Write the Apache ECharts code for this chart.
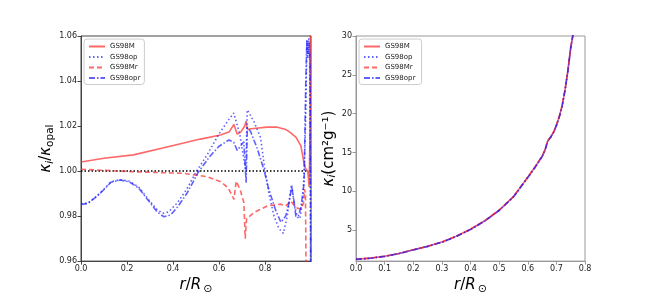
<!DOCTYPE html>
<html><head><meta charset="utf-8">
<script src="https://cdn.jsdelivr.net/npm/echarts@6/dist/echarts.min.js"></script>
<style>html,body{margin:0;padding:0;background:#fff}#c{width:650px;height:300px}</style>
</head><body><div id="c"></div>
<script>
// ---- Left panel: kappa_i / kappa_opal vs r/R_sun ----
const seriesNames = ['GS98M', 'GS98op', 'GS98Mr', 'GS98opr'];

const rM = [0, 0.1, 0.228, 0.374, 0.519, 0.607, 0.645, 0.665, 0.679, 0.694, 0.712, 0.718, 0.723, 0.76, 0.81, 0.854, 0.89, 0.912, 0.935, 0.956, 0.97, 0.977, 0.986, 0.992, 0.996, 0.998];
const yM = [1.004, 1.0057, 1.0072, 1.0107, 1.0142, 1.016, 1.0175, 1.0207, 1.0164, 1.0173, 1.020, 1.0222, 1.0186, 1.019, 1.0195, 1.0195, 1.0185, 1.017, 1.015, 1.0112, 1.0033, 1.001, 1.000, 0.993, 1.02, 1.08];

const rOp = [0, 0.03, 0.07, 0.1, 0.13, 0.17, 0.21, 0.25, 0.3, 0.33, 0.355, 0.38, 0.42, 0.46, 0.5, 0.55, 0.6, 0.64, 0.664, 0.69, 0.716, 0.723, 0.752, 0.781, 0.8, 0.817, 0.839, 0.861, 0.88, 0.897, 0.909, 0.916, 0.927, 0.941, 0.951, 0.963, 0.97, 0.977, 0.982, 0.986, 0.99, 0.994, 0.997, 0.999];
const yOp = [0.9855, 0.9858, 0.989, 0.992, 0.9952, 0.9962, 0.9955, 0.993, 0.9865, 0.983, 0.9812, 0.9818, 0.986, 0.992, 0.9995, 1.0075, 1.0165, 1.0225, 1.0258, 1.0165, 1.0006, 1.0272, 1.022, 1.0148, 1.0, 0.990, 0.980, 0.9744, 0.9723, 0.980, 0.990, 0.994, 0.9852, 0.9795, 0.9788, 0.986, 0.999, 1.0235, 1.058, 1.050, 1.059, 1.052, 1.0, 0.92];

const rMr = [0, 0.228, 0.447, 0.548, 0.607, 0.64, 0.655, 0.665, 0.675, 0.684, 0.694, 0.708, 0.714, 0.72, 0.752, 0.81, 0.868, 0.89, 0.912, 0.934, 0.956, 0.968, 0.972, 0.976, 0.978, 0.98];
const yMr = [1.0008, 0.9997, 0.999, 0.9975, 0.9953, 0.9925, 0.9895, 0.9874, 0.9955, 0.9935, 0.991, 0.986, 0.970, 0.9788, 0.9816, 0.9845, 0.9853, 0.9845, 0.9867, 0.9838, 0.983, 0.986, 0.992, 0.99, 0.96, 0.94];

const rOpr = [0, 0.03, 0.07, 0.1, 0.13, 0.17, 0.21, 0.25, 0.3, 0.33, 0.36, 0.39, 0.42, 0.46, 0.51, 0.56, 0.6, 0.643, 0.664, 0.679, 0.708, 0.718, 0.723, 0.737, 0.767, 0.796, 0.817, 0.847, 0.869, 0.89, 0.905, 0.916, 0.927, 0.934, 0.945, 0.956, 0.97, 0.977, 0.982, 0.987, 0.992, 0.996, 0.998, 0.9995];
const yOpr = [0.9852, 0.9856, 0.9888, 0.9918, 0.995, 0.996, 0.9952, 0.9925, 0.986, 0.982, 0.9797, 0.9805, 0.984, 0.990, 0.9995, 1.0065, 1.011, 1.0138, 1.0128, 1.0092, 1.013, 0.9948, 1.0193, 1.0177, 1.0098, 1.0004, 0.9917, 0.9824, 0.9773, 0.980, 0.986, 0.9932, 0.986, 0.980, 0.980, 0.9838, 0.9946, 1.038, 1.058, 1.052, 1.057, 1.048, 0.99, 0.92];

const refLineR = [0, 0.985];
const refLineY = [1.0, 1.0];

const leftXTicks = [0, 0.2, 0.4, 0.6, 0.8];
const leftYTicks = [0.96, 0.98, 1.00, 1.02, 1.04, 1.06];

// ---- Right panel: kappa_i (cm^2 g^-1) vs r/R_sun ----
const r2 = [0, 0.05, 0.1, 0.15, 0.2, 0.25, 0.3, 0.35, 0.4, 0.45, 0.5, 0.55, 0.6, 0.625, 0.65, 0.66, 0.67, 0.68, 0.69, 0.7, 0.71, 0.72, 0.73, 0.74, 0.75, 0.757, 0.765];
const kM   = [1.24, 1.38, 1.62, 1.98, 2.45, 2.9, 3.45, 4.2, 5.1, 6.2, 7.55, 9.3, 11.8, 13.1, 14.5, 15.3, 16.5, 17.0, 17.6, 18.5, 19.6, 21.0, 23.0, 25.5, 28.5, 30.0, 32.5];
const kOp  = [1.23, 1.37, 1.61, 1.97, 2.44, 2.89, 3.43, 4.18, 5.07, 6.17, 7.52, 9.27, 11.76, 13.05, 14.45, 15.25, 16.45, 16.95, 17.55, 18.45, 19.55, 20.95, 22.95, 25.4, 28.4, 29.9, 32.4];
const kMr  = [1.24, 1.38, 1.62, 1.98, 2.45, 2.9, 3.45, 4.2, 5.1, 6.2, 7.55, 9.3, 11.8, 13.1, 14.5, 15.3, 16.5, 17.0, 17.6, 18.5, 19.6, 21.0, 23.0, 25.5, 28.5, 30.0, 32.5];
const kOpr = [1.23, 1.37, 1.61, 1.97, 2.44, 2.89, 3.43, 4.18, 5.07, 6.17, 7.52, 9.27, 11.76, 13.05, 14.45, 15.25, 16.45, 16.95, 17.55, 18.45, 19.55, 20.95, 22.95, 25.4, 28.4, 29.9, 32.4];

const rightXTicks = [0, 0.1, 0.2, 0.3, 0.4, 0.5, 0.6, 0.7, 0.8];
const rightYTicks = [5, 10, 15, 20, 25, 30];

function pairs(xs, ys) { return xs.map((x, i) => [x, ys[i]]); }

const RED = 'rgba(255,40,40,0.7)';
const BLUE = 'rgba(30,30,255,0.7)';
const styles = {
  'GS98M':   { color: RED,  type: 'solid' },
  'GS98op':  { color: BLUE, type: [1.5, 2.5] },
  'GS98Mr':  { color: RED,  type: [5, 3] },
  'GS98opr': { color: BLUE, type: [6, 2, 1.5, 2] }
};

function mkSeries(name, data, xi, yi) {
  const s = styles[name];
  return {
    name: name, type: 'line', data: data, xAxisIndex: xi, yAxisIndex: yi,
    symbol: 'none', showSymbol: false, smooth: false, clip: true,
    lineStyle: { color: s.color, width: 1.6, type: s.type },
    itemStyle: { color: s.color }
  };
}

const tickFont = { fontSize: 8, color: '#222', fontFamily: 'DejaVu Sans' };

function makeAxisX(gi, min, max, ticks, dec, axisColor) {
  return {
    type: 'value', gridIndex: gi, min: min, max: max,
    name: '{i|r}{n|/}{i|R}{s|⊙}',
    nameLocation: 'middle', nameGap: 13,
    nameTextStyle: {
      rich: {
        i: { fontSize: 15, fontStyle: 'italic', fontFamily: 'DejaVu Sans', color: '#000' },
        n: { fontSize: 15, fontFamily: 'DejaVu Sans', color: '#000' },
        s: { fontSize: 11, fontFamily: 'DejaVu Sans', color: '#000', padding: [8, 0, 0, 2] }
      }
    },
    axisLine: { show: true, lineStyle: { color: axisColor, width: 1 } },
    axisTick: { show: true, length: 3.5, customValues: ticks, lineStyle: { color: axisColor } },
    axisLabel: Object.assign({ margin: 4, customValues: ticks, formatter: v => v.toFixed(dec) }, tickFont),
    splitLine: { show: false }
  };
}

function mkLegend(names, left) {
  return {
    data: names, orient: 'vertical', left: left, top: 39,
    itemWidth: 16, itemHeight: 7, itemGap: 3.5, padding: [4, 4, 3, 4],
    backgroundColor: '#fff', borderColor: '#ccc', borderWidth: 1, borderRadius: 3,
    itemStyle: { opacity: 0, borderWidth: 0 },
    textStyle: { fontSize: 7, color: '#222', fontFamily: 'DejaVu Sans', padding: [0, 0, 0, 0] }
  };
}

const option = {
  animation: false,
  backgroundColor: '#fff',
  grid: [
    { left: 81, right: 339, top: 36, bottom: 33, show: true, borderColor: '#444', borderWidth: 1 },
    { left: 356, right: 65, top: 36, bottom: 33, show: true, borderColor: '#999', borderWidth: 1 }
  ],
  legend: [
    mkLegend(seriesNames, 84),
    mkLegend(seriesNames.map(n => n + ' '), 359)
  ],
  xAxis: [
    makeAxisX(0, 0, 1.0, leftXTicks, 1, '#444'),
    makeAxisX(1, 0, 0.8, rightXTicks, 1, '#999')
  ],
  yAxis: [
    {
      type: 'value', gridIndex: 0, min: 0.96, max: 1.06,
      name: '{k|κ}{s|i}{n|/}{k|κ}{s2|opal}',
      nameLocation: 'middle', nameGap: 23, nameRotate: 90,
      nameTextStyle: {
        rich: {
          k: { fontSize: 15, fontStyle: 'italic', fontFamily: 'DejaVu Sans', color: '#000' },
          n: { fontSize: 15, fontFamily: 'DejaVu Sans', color: '#000' },
          s: { fontSize: 10.5, fontStyle: 'italic', fontFamily: 'DejaVu Sans', color: '#000', padding: [7, 0, 0, 0] },
          s2: { fontSize: 10.5, fontFamily: 'DejaVu Sans', color: '#000', padding: [7, 0, 0, 0] }
        }
      },
      axisLine: { show: true, lineStyle: { color: '#444' } },
      axisTick: { show: true, length: 3.5, customValues: leftYTicks, lineStyle: { color: '#444' } },
      axisLabel: Object.assign({ margin: 4, customValues: leftYTicks, formatter: v => v.toFixed(2) }, tickFont),
      splitLine: { show: false }
    },
    {
      type: 'value', gridIndex: 1, min: 1, max: 30,
      name: '{k|κ}{s|i}{n|(cm²g⁻¹)}',
      nameLocation: 'middle', nameGap: 15, nameRotate: 90,
      nameTextStyle: {
        rich: {
          k: { fontSize: 15, fontStyle: 'italic', fontFamily: 'DejaVu Sans', color: '#000' },
          n: { fontSize: 15, fontFamily: 'DejaVu Sans', color: '#000' },
          s: { fontSize: 10.5, fontStyle: 'italic', fontFamily: 'DejaVu Sans', color: '#000', padding: [7, 0, 0, 0] }
        }
      },
      axisLine: { show: true, lineStyle: { color: '#999' } },
      axisTick: { show: true, length: 3.5, customValues: rightYTicks, lineStyle: { color: '#999' } },
      axisLabel: Object.assign({ margin: 4, customValues: rightYTicks, formatter: v => String(v) }, tickFont),
      splitLine: { show: false }
    }
  ],
  series: [
    {
      name: 'ref', type: 'line', xAxisIndex: 0, yAxisIndex: 0, symbol: 'none',
      data: pairs(refLineR, refLineY),
      lineStyle: { color: '#000', width: 1.4, type: [1.5, 2] }, z: 1
    },
    mkSeries('GS98M', pairs(rM, yM), 0, 0),
    mkSeries('GS98op', pairs(rOp, yOp), 0, 0),
    mkSeries('GS98Mr', pairs(rMr, yMr), 0, 0),
    mkSeries('GS98opr', pairs(rOpr, yOpr), 0, 0),
    Object.assign(mkSeries('GS98M', pairs(r2, kM), 1, 1), { name: 'GS98M ' }),
    Object.assign(mkSeries('GS98op', pairs(r2, kOp), 1, 1), { name: 'GS98op ' }),
    Object.assign(mkSeries('GS98Mr', pairs(r2, kMr), 1, 1), { name: 'GS98Mr ' }),
    Object.assign(mkSeries('GS98opr', pairs(r2, kOpr), 1, 1), { name: 'GS98opr ' })
  ]
};

const chart = echarts.init(document.getElementById('c'), null, { renderer: 'canvas' });
chart.setOption(option);
</script>
</body></html>
